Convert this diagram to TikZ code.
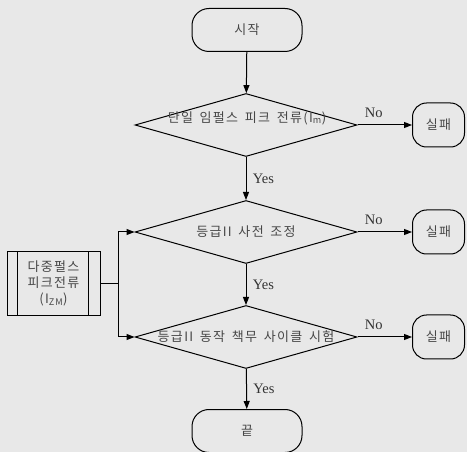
\documentclass[tikz,border=0pt]{standalone}
\usepackage{fontspec}
\setmainfont{Liberation Serif}
\newfontfamily\kr[LetterSpace=10,WordSpace=1.6]{Noto Sans CJK KR}
\usetikzlibrary{shapes.geometric,arrows.meta}
\definecolor{bg}{RGB}{232,232,232}
\tikzset{
  term/.style={draw, rounded corners=17pt, minimum width=110pt, minimum height=43pt, inner sep=0pt},
  failbox/.style={draw, rounded corners=14pt, minimum width=52pt, minimum height=44pt, inner sep=0pt},
  dec/.style={draw, diamond, minimum width=222pt, minimum height=63pt, inner sep=0pt},
  txt/.style={font=\kr\fontsize{13}{17}\selectfont, text=black!72, inner sep=0pt},
  lbl/.style={font=\fontsize{14.5}{16}\selectfont, text=black!80},
  arr/.style={-{Triangle[length=8pt,width=6pt]}},
}
\begin{document}
\begin{tikzpicture}[x=1pt,y=-1pt,line width=1pt]
\fill[bg] (0,0) rectangle (467,452);
\useasboundingbox (0,0) rectangle (467,452);
% start / end
\node[term] (start) at (247,30) {};
\node[txt] (startt) at (start) {시작};
\node[term] (end) at (247,431) {};
\node[txt] (endt) at (end) {끝};
% decisions
\node[dec] (d1) at (246,125) {};
\node[txt] (d1t) at (247,118) {단일 임펄스 피크 전류(I\textsubscript{m})};
\node[dec] (d2) at (246,232) {};
\node[txt] (d2t) at (d2) {등급II 사전 조정};
\node[dec] (d3) at (246,337) {};
\node[txt] (d3t) at (d3) {등급II 동작 책무 사이클 시험};
% fail boxes
\node[failbox] (f1) at (438.5,125) {};
\node[txt] (f1t) at (f1) {실패};
\node[failbox] (f2) at (438.5,232) {};
\node[txt] (f2t) at (f2) {실패};
\node[failbox] (f3) at (438.5,337) {};
\node[txt] (f3t) at (f3) {실패};
% multi pulse box
\node[draw, minimum width=93pt, minimum height=64pt, inner sep=0pt] (mp) at (53.5,284) {};
\draw (mp.north west) ++(11,0) coordinate (mpa) -- (mpa |- mp.south);
\draw (mp.north east) ++(-12,0) coordinate (mpb) -- (mpb |- mp.south);
\node[txt, align=center] (mpt) at (53.5,283) {다중펄스\\[-1pt]피크전류\\[-1pt](I\textsubscript{ZM})};
\coordinate (j) at (118,284);
% connectors
\draw[arr] (start) -- (d1);
\draw[arr] (d1) -- node[lbl, anchor=west, xshift=3pt] (y1) {Yes} (d2);
\draw[arr] (d2) -- node[lbl, anchor=west, xshift=3pt] (y2) {Yes} (d3);
\draw[arr] (d3) -- node[lbl, anchor=west, xshift=3pt] (y3) {Yes} (end);
\draw[arr] (d1.east) -- node[lbl, pos=0.3, above, yshift=4pt] (n1) {No} (f1.west);
\draw[arr] (d2.east) -- node[lbl, pos=0.3, above, yshift=4pt] (n2) {No} (f2.west);
\draw[arr] (d3.east) -- node[lbl, pos=0.3, above, yshift=4pt] (n3) {No} (f3.west);
\draw (mp.east) -- (j);
\draw[arr] (j) |- (d2.west);
\draw[arr] (j) |- (d3.west);
\end{tikzpicture}
\end{document}
